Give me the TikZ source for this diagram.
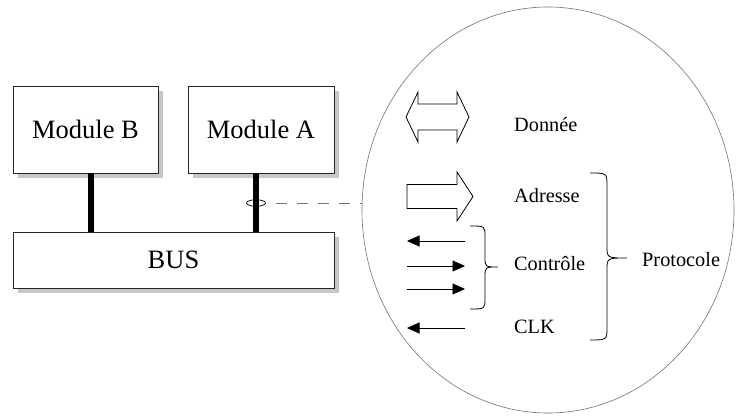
\documentclass[tikz,border=0pt]{standalone}
\usepackage{fontspec}
\setmainfont{Liberation Serif}
\usetikzlibrary{arrows.meta,shapes.geometric,shadows}
\begin{document}
\begin{tikzpicture}[x=1pt,y=-1pt,
  box/.style={draw=black!85, line width=0.8pt, fill=white, inner sep=0pt,
    font=\fontsize{26.5}{30}\selectfont,
    drop shadow={shadow xshift=4.5pt, shadow yshift=-4.5pt, fill=black!22, opacity=1}},
  bussig/.style={line width=5.5pt, black},
  lbl/.style={inner sep=0pt, font=\fontsize{20.3}{24}\selectfont},
  bigarrow/.style={draw=black, line width=0.8pt, fill=white, line join=miter},
  sig/.style={line width=0.8pt, -{Triangle[length=12.5pt,width=11pt]}},
  brc/.style={line width=0.8pt, black}]
\useasboundingbox (0,0) rectangle (736,415);

% zoom circle
\node[draw=black!55, ellipse, minimum width=372, minimum height=406, inner sep=0pt, line width=0.6pt] (zoom) at (548,210) {};

% modules and bus
\node[box, minimum width=145, minimum height=87] (mb) at (85.5,129.5) {Module B};
\node[box, minimum width=146, minimum height=87] (ma) at (261,129.5) {Module A};
\node[box, minimum width=321, minimum height=56] (bus) at (173.5,260) {BUS};

% small ellipse marker
\node[draw, ellipse, minimum width=19, minimum height=6.5, inner sep=0pt, line width=0.7pt] (sm) at (256,203) {};
\coordinate (tb) at (91,200);

\draw[bussig] (tb |- mb.south) -- (tb |- bus.north);
\draw[bussig] (sm |- ma.south) -- (sm |- bus.north);

\draw[black!55, line width=0.7pt, dash pattern=on 11pt off 10pt, dash phase=11pt] (sm.east) -- (sm.east -| zoom.west);

% Donnee double arrow
\draw[bigarrow] (406,117) -- (418,92) -- (418,104) -- (457,104) -- (457,92) -- (469,117)
  -- (457,142) -- (457,130) -- (418,130) -- (418,142) -- cycle;
% Adresse arrow
\draw[bigarrow] (407,184.5) -- (457,184.5) -- (457,172) -- (473,196.5) -- (457,221) -- (457,208.5) -- (407,208.5) -- cycle;

% control arrows
\draw[sig] (465,241) -- (407,241);
\draw[sig] (407,266) -- (465,266);
\draw[sig] (407,289) -- (465,289);
\draw[sig] (465,328) -- (407,328);

% braces
\draw[brc] (470,226) .. controls (485,226) .. (485,237) -- (485,257)
  .. controls (485,267) .. (498,267) .. controls (485,267) .. (485,277)
  -- (485,298) .. controls (485,309) .. (470,309);
\draw[brc] (590,173) .. controls (607,173) .. (607,186) -- (607,246)
  .. controls (607,258) .. (627,258) .. controls (607,258) .. (607,270)
  -- (607,327) .. controls (607,340) .. (590,340);

% labels
\node[lbl, anchor=base west] (don) at (514,131) {Donnée};
\node[lbl, anchor=base west] (adr) at (514,202) {Adresse};
\node[lbl, anchor=base west] (ctl) at (514,270) {Contrôle};
\node[lbl, anchor=base west] (clk) at (514,333) {CLK};
\node[lbl, anchor=base west] (pro) at (642,266) {Protocole};
\end{tikzpicture}
\end{document}
